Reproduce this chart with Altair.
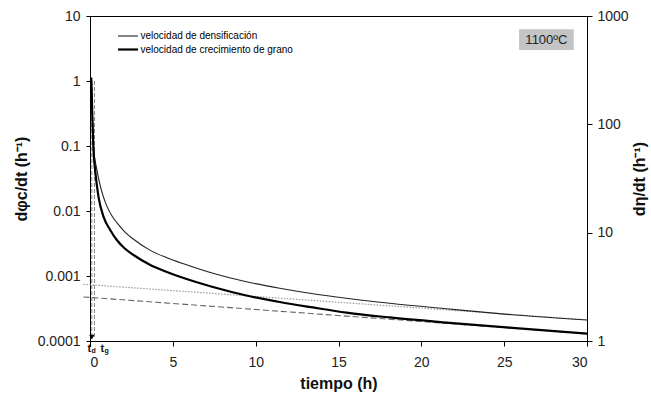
import altair as alt
import pandas as pd

# ---- data ----
serie_dens = "velocidad de densificación"
serie_grano = "velocidad de crecimiento de grano"

t_dens = [0.08, 0.14, 0.21, 0.41, 0.62, 0.8, 1.02, 1.3, 1.62, 2.1, 2.63, 3.64,
          4.64, 5.65, 7.42, 9.44, 11.45, 13.46, 15.48, 18.1, 21.5, 25.5, 30]
v_dens = [1.14, 0.307, 0.0989, 0.0438, 0.0243, 0.0168, 0.0119, 0.00859, 0.00663,
          0.00479, 0.00367, 0.00248, 0.00191, 0.00154, 0.00110, 0.000815,
          0.000647, 0.000533, 0.000454, 0.000380, 0.000313, 0.000253, 0.000210]

t_grano = [0.08, 0.14, 0.21, 0.31, 0.51, 0.82, 1.22, 1.62, 2.1, 2.63, 3.64, 4.64,
           5.65, 7.42, 9.44, 11.45, 13.46, 15.48, 18.1, 21.5, 25.5, 30]
v_grano = [267.7, 121.9, 57.9, 37.9, 21.5, 14.0, 10.6, 8.55, 7.14, 6.22, 5.03,
           4.34, 3.81, 3.15, 2.63, 2.29, 2.04, 1.83, 1.65, 1.48, 1.32, 1.17]

t_asint_dens = [-0.4, 30]
v_asint_dens = [0.000745, 0.000212]
t_asint_grano = [-0.4, 30]
v_asint_grano = [2.55, 1.17]

t_marcas = [0.11, 0.27]          # t_d, t_g
v_marca_sup = [1.0, 1.0]
v_marca_inf = [0.000115, 0.000115]
marca_tipo = ["d", "g"]

etiqueta_t = [-0.15, 0.63]
etiqueta_sub = ["d", "g"]

x_ticks = [0, 5, 10, 15, 20, 25, 30]
y_izq_ticks = [0.0001, 0.001, 0.01, 0.1, 1, 10]
y_der_ticks = [1, 10, 100, 1000]

temp_texto = ["1100ºC"]
temp_t = [27.55]
temp_v = [4.33]
temp_caja_t = [25.9, 29.2]
temp_caja_v = [6.24, 3.0]

FONT = "Liberation Sans"

df_dens = pd.DataFrame({"t": t_dens, "v": v_dens, "serie": serie_dens})
df_grano = pd.DataFrame({"t": t_grano, "v": v_grano, "serie": serie_grano})
df_ad = pd.DataFrame({"t": t_asint_dens, "v": v_asint_dens})
df_ag = pd.DataFrame({"t": t_asint_grano, "v": v_asint_grano})
df_m = pd.DataFrame({"t": t_marcas, "v1": v_marca_sup, "v2": v_marca_inf, "tipo": marca_tipo})
df_temp = pd.DataFrame({"t": temp_t, "v": temp_v, "txt": temp_texto})
df_caja = pd.DataFrame({"t1": [temp_caja_t[0]], "t2": [temp_caja_t[1]],
                        "v1": [temp_caja_v[0]], "v2": [temp_caja_v[1]]})
df_lab = pd.DataFrame({"t": etiqueta_t, "v": [0.0001] * len(etiqueta_t), "sub": etiqueta_sub})

x_enc = alt.X("t:Q", scale=alt.Scale(domain=[0, 30], nice=False, zero=False),
              axis=alt.Axis(values=x_ticks, title="tiempo (h)", grid=False,
                            tickSize=5, labelPadding=9, titlePadding=6))

yl_scale = alt.Scale(type="log", domain=[0.0001, 10], nice=False)
yr_scale = alt.Scale(type="log", domain=[1, 1000], nice=False)
yl_axis = alt.Axis(values=y_izq_ticks, format="~g", title="dφc/dt (h⁻¹)",
                   orient="left", grid=False, tickSize=4, labelPadding=6,
                   titlePadding=8)
yr_axis = alt.Axis(values=y_der_ticks, format="~g", title="dη/dt (h⁻¹)",
                   orient="right", grid=False, tickSize=5, labelPadding=5,
                   titlePadding=3, titleAngle=270, titleBaseline="top")

names = [serie_dens, serie_grano]
legend = alt.Legend(title=None, orient="none", legendX=31.5, legendY=14,
                    symbolType="M-2,0H2", symbolSize=100, labelFontSize=10,
                    labelFont=FONT, labelColor="#000", rowPadding=2,
                    labelOffset=6, padding=0)
color_enc = alt.Color("serie:N", scale=alt.Scale(domain=names, range=["#222222", "#000000"]),
                      legend=legend)
sw_enc = alt.StrokeWidth("serie:N", scale=alt.Scale(domain=names, range=[1.1, 2.2]),
                         legend=legend)

y_l = alt.Y("v:Q", scale=yl_scale, axis=yl_axis)
y_r = alt.Y("v:Q", scale=yr_scale, axis=yr_axis)

thin = alt.Chart(df_dens).mark_line(interpolate="monotone").encode(
    x=x_enc, y=y_l, color=color_enc, strokeWidth=sw_enc)
dotted = alt.Chart(df_ad).mark_line(color="#999999", strokeWidth=1.2,
                                    strokeDash=[1.5, 1.5]).encode(x=x_enc, y=y_l)
vl = alt.Chart(df_m).mark_rule(color="#888888", strokeWidth=1,
                               strokeDash=[4, 2]).encode(
    x=x_enc, y=alt.Y("v1:Q", scale=yl_scale, axis=yl_axis), y2="v2:Q")
arrow = alt.Chart(df_m.iloc[[0]]).mark_point(shape="triangle-down", filled=True,
                                             color="black", size=30, opacity=1).encode(
    x=x_enc, y=alt.Y("v2:Q", scale=yl_scale, axis=yl_axis))
caja = alt.Chart(df_caja).mark_rect(color="#c4c4c4").encode(
    x=alt.X("t1:Q", scale=alt.Scale(domain=[0, 30], nice=False)), x2="t2:Q",
    y=alt.Y("v1:Q", scale=yl_scale, axis=yl_axis), y2="v2:Q")
temp = alt.Chart(df_temp).mark_text(font=FONT, fontSize=13, color="#222").encode(
    x=x_enc, y=y_l, text="txt:N")
lab_t = alt.Chart(df_lab).mark_text(font=FONT, fontSize=11, fontWeight="bold",
                                    align="left", baseline="top", dy=2,
                                    color="#111").encode(
    x=x_enc, y=y_l, text=alt.value("t"))
lab_sub = alt.Chart(df_lab).mark_text(font=FONT, fontSize=7, fontWeight="bold",
                                      align="left", baseline="top", dy=6, dx=4,
                                      color="#111").encode(
    x=x_enc, y=y_l, text="sub:N")

left = alt.layer(caja, temp, dotted, vl, arrow, thin, lab_t, lab_sub)

thick = alt.Chart(df_grano).mark_line(interpolate="monotone").encode(
    x=x_enc, y=y_r, color=color_enc, strokeWidth=sw_enc)
dashed = alt.Chart(df_ag).mark_line(color="#666666", strokeWidth=1.1,
                                    strokeDash=[6, 3]).encode(x=x_enc, y=y_r)
right = alt.layer(dashed, thick)

chart = alt.layer(left, right).resolve_scale(y="independent").properties(
    width=497, height=325,
    padding={"left": 90, "top": 16, "right": 64, "bottom": 57},
    autosize=alt.AutoSizeParams(type="none"),
    background="white",
).configure_view(stroke="black", strokeWidth=1).configure_axis(
    labelFont=FONT, titleFont=FONT, labelFontSize=14, titleFontSize=16,
    titleFontWeight="bold", labelColor="#222", titleColor="#111",
    domainColor="black", tickColor="black", domainWidth=1, tickWidth=1,
)

chart.save("out.html", embed_options={"renderer": "svg", "actions": False})
